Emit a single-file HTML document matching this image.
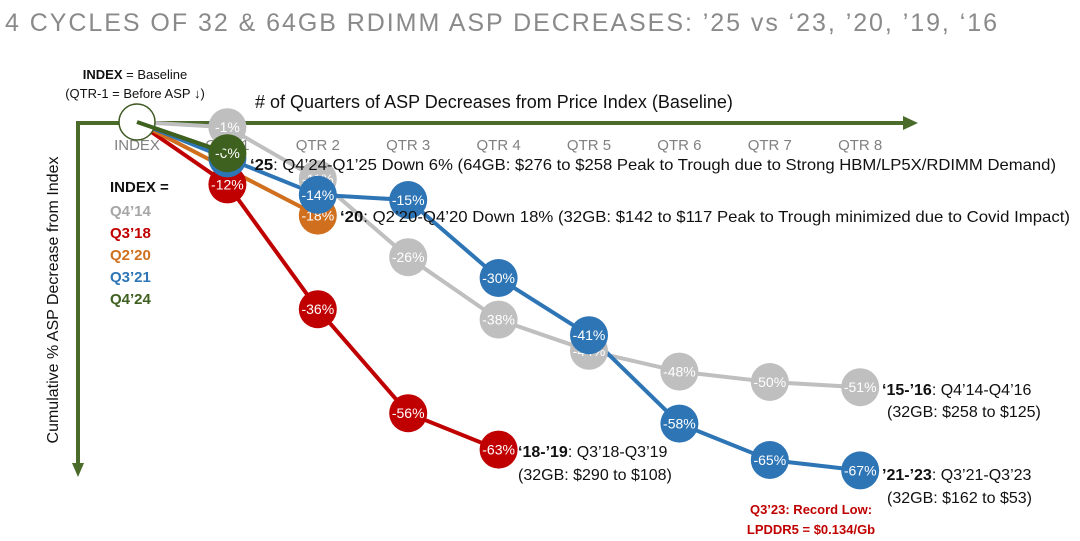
<!DOCTYPE html>
<html><head><meta charset="utf-8">
<style>
html,body{margin:0;padding:0;background:#fff;}
svg{display:block;font-family:"Liberation Sans",sans-serif;}
</style></head>
<body>
<svg id="chart" width="1080" height="541" viewBox="0 0 1080 541">
  <text x="5" y="31" font-size="25" fill="#8a8a8a" textLength="992" lengthAdjust="spacing">4 CYCLES OF 32 &amp; 64GB RDIMM ASP DECREASES: ’25 vs ‘23, ’20, ’19, ‘16</text>
  <text x="135" y="79" font-size="13" text-anchor="middle" fill="#111"><tspan font-weight="bold">INDEX</tspan> = Baseline</text>
  <text x="135" y="98" font-size="13" text-anchor="middle" fill="#111">(QTR-1 = Before ASP ↓)</text>
  <text x="255" y="108" font-size="18" fill="#111"># of Quarters of ASP Decreases from Price Index (Baseline)</text>
  <g>
    <line x1="76" y1="123" x2="905" y2="123" stroke="#4a6b2a" stroke-width="4"/>
    <polygon points="903,116 918,123 903,130" fill="#4a6b2a"/>
  </g>
  <g>
    <line x1="78" y1="121" x2="78" y2="465" stroke="#4a6b2a" stroke-width="4"/>
    <polygon points="72,463 78,477 84,463" fill="#4a6b2a"/>
  </g>
  <text transform="translate(58,300) rotate(-90)" font-size="16" text-anchor="middle" fill="#111">Cumulative % ASP Decrease from Index</text>
  <g id="xticks"></g>
  <g id="lines"></g>
  <g id="dots"></g>
  <g font-size="15" font-weight="bold">
    <text x="110" y="192" fill="#111">INDEX =</text>
    <text x="110" y="216" fill="#a6a6a6">Q4’14</text>
    <text x="110" y="238" fill="#c00000">Q3’18</text>
    <text x="110" y="260" fill="#d0701f">Q2’20</text>
    <text x="110" y="282" fill="#2e75b6">Q3’21</text>
    <text x="110" y="304" fill="#3f6120">Q4’24</text>
  </g>
  <g font-size="16" fill="#111">
    <text x="250" y="170" textLength="806" lengthAdjust="spacingAndGlyphs"><tspan font-weight="bold">‘25</tspan>: Q4’24-Q1’25 Down 6% (64GB: $276 to $258 Peak to Trough due to Strong HBM/LP5X/RDIMM Demand)</text>
    <text x="340" y="222" textLength="730" lengthAdjust="spacingAndGlyphs"><tspan font-weight="bold">‘20</tspan>: Q2’20-Q4’20 Down 18% (32GB: $142 to $117 Peak to Trough minimized due to Covid Impact)</text>
    <text x="882" y="395"><tspan font-weight="bold">‘15-’16</tspan>: Q4’14-Q4’16</text>
    <text x="887" y="417">(32GB: $258 to $125)</text>
    <text x="518" y="457"><tspan font-weight="bold">‘18-’19</tspan>: Q3’18-Q3’19</text>
    <text x="518" y="480">(32GB: $290 to $108)</text>
    <text x="882" y="480"><tspan font-weight="bold">’21-’23</tspan>: Q3’21-Q3’23</text>
    <text x="887" y="503">(32GB: $162 to $53)</text>
  </g>
  <text x="811" y="514" font-size="13" font-weight="bold" fill="#c00000" text-anchor="middle">Q3’23: Record Low:</text>
  <text x="811" y="534" font-size="13" font-weight="bold" fill="#c00000" text-anchor="middle">LPDDR5 = $0.134/Gb</text>
</svg>
<script>
const categories = ["INDEX","QTR 1","QTR 2","QTR 3","QTR 4","QTR 5","QTR 6","QTR 7","QTR 8"];
const grayValues = [0,-1,-11,-26,-38,-44,-48,-50,-51];
const redValues = [0,-12,-36,-56,-63];
const orangeValues = [0,null,-18];
const blueValues = [0,-7,-14,-15,-30,-41,-58,-65,-67];
const greenValues = [0,-6];

const NS = "http://www.w3.org/2000/svg";
function xPos(i){ return 137 + i*90.4; }
function yPos(v){ return 122 - v*5.2; }
function mk(tag, attrs, parent){
  const e = document.createElementNS(NS, tag);
  for (const k in attrs) e.setAttribute(k, attrs[k]);
  parent.appendChild(e);
  return e;
}
const xt = document.getElementById('xticks');
categories.forEach((c,i)=>{
  const t = mk('text',{x:xPos(i), y:150, 'font-size':15, fill:'#808080', 'text-anchor':'middle'}, xt);
  
  
  t.textContent = c;
});
const linesG = document.getElementById('lines');
const dotsG = document.getElementById('dots');
const series = [
  {name:'q414', vals:grayValues, color:'#bfbfbf'},
  {name:'q318', vals:redValues, color:'#c00000'},
  {name:'q220', vals:orangeValues, color:'#d0701f'},
  {name:'q321', vals:blueValues, color:'#2e75b6'},
  {name:'q424', vals:greenValues, color:'#3f6120'}
];
series.forEach(s=>{
  const pts = [];
  s.vals.forEach((v,i)=>{ if(v!==null) pts.push(xPos(i)+','+yPos(v)); });
  const pl = mk('polyline',{points:pts.join(' '), fill:'none', stroke:s.color, 'stroke-width':4, 'stroke-linejoin':'round'}, linesG);
  
  
});
series.forEach(s=>{
  s.vals.forEach((v,i)=>{
    if(v===null || i===0) return;
    const g = mk('g',{}, dotsG);
    
    
    mk('circle',{cx:xPos(i), cy:yPos(v), r:19, fill:s.color}, g);
    const t = mk('text',{x:xPos(i), y:yPos(v)+5, 'font-size':14, fill:'#fff', 'text-anchor':'middle'}, g);
    t.textContent = v+'%';
  });
});
const idx = mk('circle',{cx:xPos(0), cy:yPos(0), r:18, fill:'#fff', stroke:'#3f5a22', 'stroke-width':1.5}, dotsG);


mk('polyline',{points:xPos(0)+','+yPos(0)+' '+xPos(1)+','+yPos(-6), fill:'none', stroke:'#3f6120','stroke-width':4}, dotsG);
</script>
</body></html>
